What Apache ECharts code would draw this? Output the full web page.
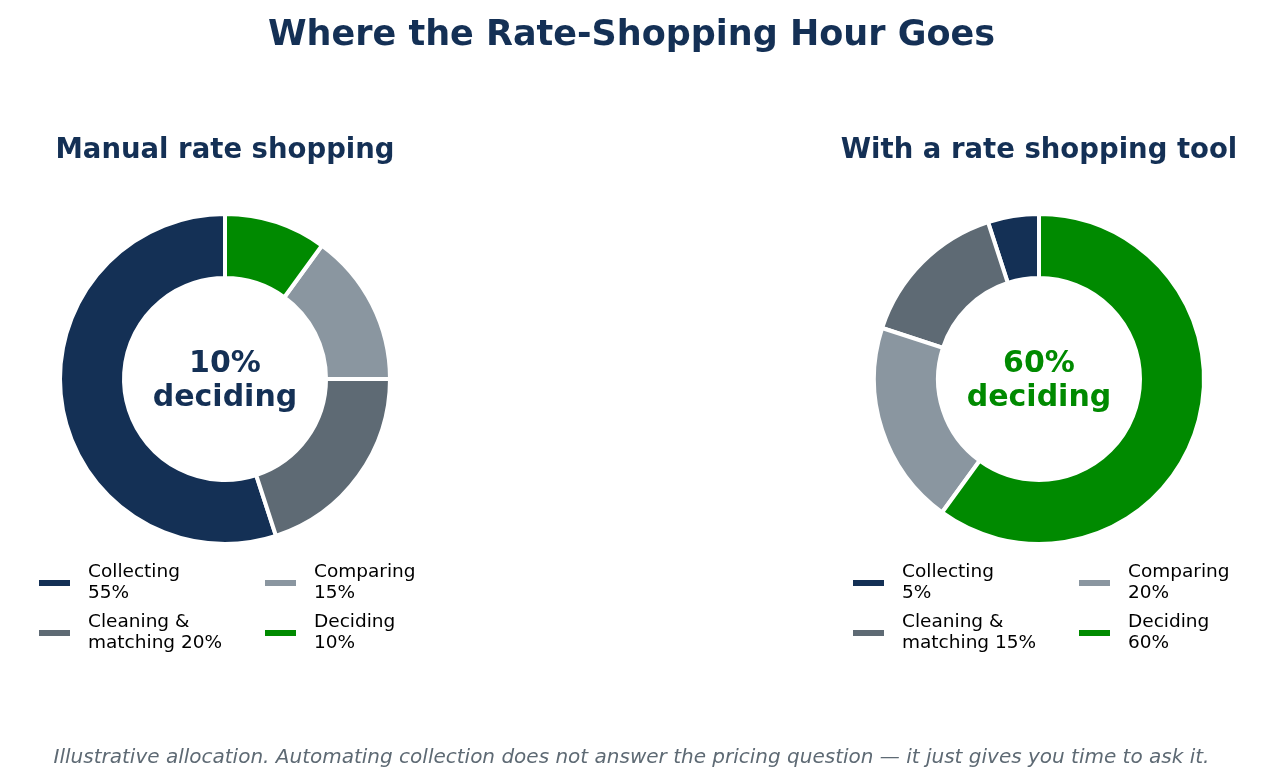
<!DOCTYPE html>
<html>
<head>
<meta charset="utf-8">
<script src="https://cdn.jsdelivr.net/npm/echarts@6/dist/echarts.min.js"></script>
<style>
  html, body { margin: 0; padding: 0; background: #fff; }
  #main { width: 1263px; height: 784px; }
</style>
</head>
<body>
<div id="main"></div>
<script>
var chartDom = document.getElementById('main');
var myChart = echarts.init(chartDom);
var option;

// data, in matplotlib order (counter-clockwise from 12 o'clock)
const stages = ['Collecting', 'Cleaning & matching', 'Comparing', 'Deciding'];
const manualShares = [55, 20, 15, 10];
const toolShares = [5, 15, 20, 60];
const stageColors = ['#143055', '#5e6a74', '#8a96a0', '#008a00'];

const FONT = 'DejaVu Sans';
const NAVY = '#143055';

function legendLabel(shares) {
  return function (name) {
    var v = shares[stages.indexOf(name)] + '%';
    if (name === 'Cleaning & matching') return 'Cleaning &\nmatching ' + v;
    return name + '\n' + v;
  };
}

function makeLegend(left, names, shares) {
  return {
    orient: 'vertical',
    left: left,
    top: 562,
    padding: 0,
    data: names,
    itemWidth: 33,
    itemHeight: 8,
    itemGap: 8,
    icon: 'rect',
    selectedMode: false,
    formatter: legendLabel(shares),
    textStyle: { fontFamily: FONT, fontSize: 18.5, lineHeight: 21, color: '#000', padding: [0, 0, 0, 12] }
  };
}

function makePie(cx, shares) {
  return {
    type: 'pie',
    center: [cx, 379],
    radius: [101, 165],
    startAngle: 90,
    clockwise: false,
    silent: true,
    label: { show: false },
    labelLine: { show: false },
    itemStyle: { borderColor: '#fff', borderWidth: 4 },
    data: stages.map(function (s, i) {
      return { name: s, value: shares[i], itemStyle: { color: stageColors[i] } };
    })
  };
}

option = {
  backgroundColor: '#fff',
  animation: false,
  title: [
    {
      text: 'Where the Rate-Shopping Hour Goes',
      left: 'center', top: 18, padding: 0,
      textStyle: { fontFamily: FONT, fontSize: 35, fontWeight: 'bold', color: NAVY }
    },
    {
      text: 'Manual rate shopping',
      left: 225, top: 137, textAlign: 'center', padding: 0,
      textStyle: { fontFamily: FONT, fontSize: 27.5, fontWeight: 'bold', color: NAVY }
    },
    {
      text: 'With a rate shopping tool',
      left: 1039, top: 137, textAlign: 'center', padding: 0,
      textStyle: { fontFamily: FONT, fontSize: 27.5, fontWeight: 'bold', color: NAVY }
    },
    {
      text: manualShares[3] + '%\ndeciding',
      left: 225, top: 347, textAlign: 'center', padding: 0,
      textStyle: { fontFamily: FONT, fontSize: 30, lineHeight: 34, fontWeight: 'bold', color: NAVY }
    },
    {
      text: toolShares[3] + '%\ndeciding',
      left: 1039, top: 347, textAlign: 'center', padding: 0,
      textStyle: { fontFamily: FONT, fontSize: 30, lineHeight: 34, fontWeight: 'bold', color: '#008a00' }
    },
    {
      text: 'Illustrative allocation. Automating collection does not answer the pricing question \u2014 it just gives you time to ask it.',
      left: 'center', top: 748, padding: 0,
      textStyle: { fontFamily: FONT, fontSize: 20, fontStyle: 'italic', fontWeight: 'normal', color: '#5e6a74' }
    }
  ],
  legend: [
    makeLegend(37, ['Collecting', 'Cleaning & matching'], manualShares),
    makeLegend(263, ['Comparing', 'Deciding'], manualShares),
    makeLegend(851, ['Collecting', 'Cleaning & matching'], toolShares),
    makeLegend(1077, ['Comparing', 'Deciding'], toolShares)
  ],
  series: [
    makePie(225, manualShares),
    makePie(1039, toolShares)
  ]
};

option && myChart.setOption(option);
</script>
</body>
</html>
